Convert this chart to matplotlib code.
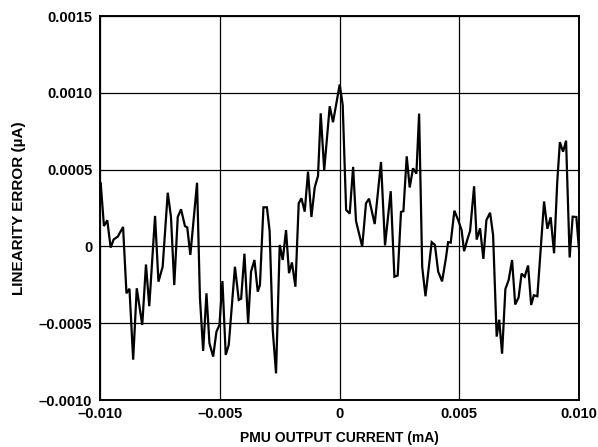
import matplotlib
matplotlib.use('Agg')
import matplotlib.pyplot as plt

# PMU output current, x1e-3 mA
current_ma = [-9.99, -9.854, -9.716, -9.574, -9.448, -9.277, -9.055, -8.913, -8.788, -8.633,
              -8.483, -8.253, -8.098, -7.960, -7.718, -7.576, -7.400, -7.187, -7.053, -6.915,
              -6.769, -6.631, -6.468, -6.372, -6.242, -5.962, -5.841, -5.707, -5.569, -5.444,
              -5.289, -5.152, -5.026, -4.901, -4.763, -4.637, -4.378, -4.219, -4.119, -3.981,
              -3.827, -3.705, -3.563, -3.425, -3.333, -3.187, -3.041, -2.928, -2.798, -2.660,
              -2.506, -2.380, -2.242, -2.117, -1.996, -1.850, -1.712, -1.599, -1.461, -1.323,
              -1.181, -1.043, -0.905, -0.792, -0.646, -0.416, -0.278, 0.002, 0.127, 0.270,
              0.420, 0.562, 0.683, 0.943, 1.101, 1.227, 1.465, 1.728, 1.896, 2.134,
              2.288, 2.426, 2.564, 2.665, 2.803, 2.928, 3.066, 3.208, 3.321, 3.450,
              3.588, 3.847, 3.981, 4.119, 4.282, 4.441, 4.533, 4.642, 4.796, 4.951,
              5.097, 5.202, 5.331, 5.452, 5.620, 5.728, 5.870, 6.008, 6.134, 6.288,
              6.414, 6.564, 6.669, 6.790, 6.928, 7.066, 7.208, 7.338, 7.480, 7.605,
              7.735, 7.877, 8.006, 8.119, 8.265, 8.545, 8.683, 8.821, 8.963, 9.093,
              9.206, 9.340, 9.465, 9.615, 9.741, 9.895, 10.0]

# linearity error, x1e-4 uA
error_ua = [4.11, 1.33, 1.71, -0.07, 0.46, 0.64, 1.27, -3.05, -2.75, -7.37,
            -2.72, -5.11, -1.17, -3.89, 1.99, -2.29, -1.32, 3.50, 1.94, -2.51,
            1.92, 2.42, 1.33, 1.24, -0.55, 4.15, -3.35, -6.80, -3.05, -6.30,
            -7.17, -5.55, -5.11, -2.25, -7.06, -6.41, -1.32, -3.48, -3.40, -0.47,
            -5.00, -1.64, -0.88, -2.94, -2.51, 2.55, 2.55, 1.01, -5.44, -8.26,
            0.10, -0.88, 1.07, -1.74, -1.04, -2.62, 2.81, 3.14, 2.27, 4.87,
            1.92, 3.84, 4.60, 8.67, 4.98, 9.13, 8.09, 10.55, 9.21, 2.38,
            2.14, 5.18, 1.66, -0.01, 2.81, 3.11, 1.46, 5.50, 0.07, 3.60,
            -1.97, -1.89, 2.25, 2.30, 5.87, 3.84, 5.09, 4.74, 8.65, -1.32,
            -3.24, 0.28, 0.10, -1.64, -2.27, -0.77, 0.28, 0.25, 2.33, 1.73,
            1.07, -0.31, 0.42, 1.01, 3.92, 0.45, 1.18, -0.81, 1.71, 2.20,
            0.75, -5.87, -4.77, -6.98, -2.77, -2.18, -0.88, -3.78, -3.32, -1.77,
            -1.97, -1.24, -3.81, -3.18, -3.24, 2.93, 1.15, 1.90, -0.44, 4.11,
            6.79, 6.17, 6.89, -0.72, 1.94, 1.92, -0.10]

x_vals = [v * 1e-3 for v in current_ma]
y_vals = [v * 1e-4 for v in error_ua]

x_ticks = [-0.010, -0.005, 0, 0.005, 0.010]
x_labels = ['\u20130.010', '\u20130.005', '0', '0.005', '0.010']
y_ticks = [-0.0010, -0.0005, 0, 0.0005, 0.0010, 0.0015]
y_labels = ['\u20130.0010', '\u20130.0005', '0', '0.0005', '0.0010', '0.0015']

plt.rcParams['font.family'] = ['Liberation Sans', 'DejaVu Sans']
plt.rcParams['font.weight'] = 'bold'

fig = plt.figure(figsize=(5.98, 4.47), dpi=100)
ax = fig.add_axes([0.168, 0.105, 0.8, 0.859])

ax.plot(x_vals, y_vals, color='black', linewidth=1.6, solid_joinstyle='miter')

ax.set_xlim(-0.010, 0.010)
ax.set_ylim(-0.0010, 0.0015)
ax.set_xticks(x_ticks)
ax.set_xticklabels(x_labels)
ax.set_yticks(y_ticks)
ax.set_yticklabels(y_labels)
ax.tick_params(length=0, labelsize=10.5)
ax.tick_params(axis='y', pad=6)
ax.tick_params(axis='x', pad=5)
ax.grid(True, color='black', linewidth=0.9)
for s in ax.spines.values():
    s.set_linewidth(1.4)

ax.set_xlabel('PMU OUTPUT CURRENT (mA)', fontsize=10, fontweight='bold', labelpad=7)
ax.set_ylabel('LINEARITY ERROR (\u00b5A)', fontsize=11, fontweight='bold', labelpad=9)

fig.savefig('out.png', dpi=100)
